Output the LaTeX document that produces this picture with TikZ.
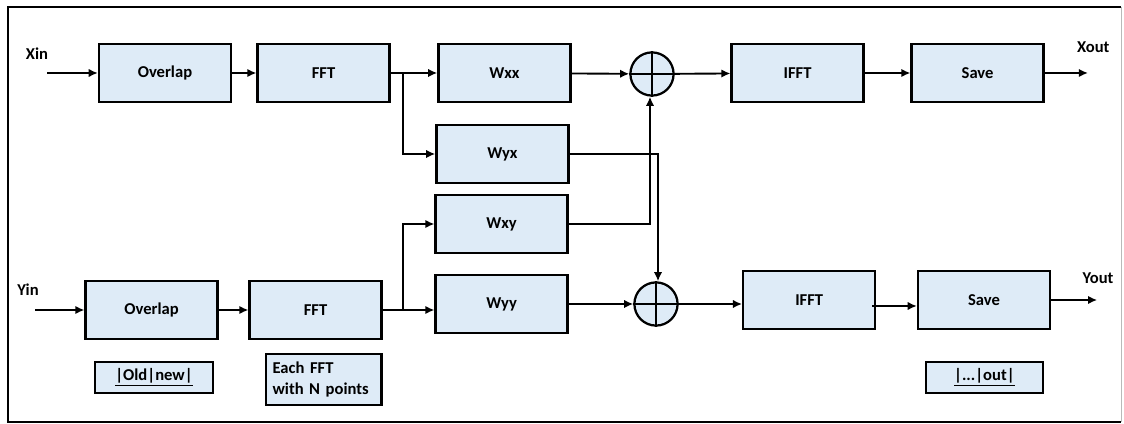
\documentclass[tikz,border=0pt]{standalone}
\usepackage{fontspec}
\setmainfont{Carlito}
\usetikzlibrary{arrows.meta, positioning, calc}
\definecolor{blockfill}{RGB}{222, 235, 247}
\definecolor{framegray}{RGB}{185, 185, 185}

\begin{document}
\begin{tikzpicture}[font=\fontsize{11.8}{15}\selectfont\bfseries,
        blk/.style={rectangle, draw=black, line width=1.6pt, fill=blockfill,
                    minimum width=3.3cm, minimum height=1.45cm, inner sep=0pt},
        note/.style={rectangle, draw=black, line width=1.6pt, fill=blockfill, inner sep=0pt},
        sum/.style={circle, draw=black, line width=1.6pt, fill=blockfill, minimum size=1.08cm, inner sep=0pt},
        sig/.style={-{Latex[length=6.5pt, width=6pt]}, line width=1.35pt}
    ]
    \useasboundingbox (0,0) rectangle (28.1,10.6);
    % outer frame
    \draw[line width=1.6pt] (28.025,10.425) -- (0.2,10.425) -- (0.2,0.05) -- (28.025,0.05);
    \draw[framegray, line width=0.6pt] (28.025,10.425) -- (28.025,0.05);

    % X channel
    \node (xin) at (0.925,9.25) {Xin};
    \node[blk] (ovlX) at (4.125,8.775) {Overlap};
    \node[blk] (fftX) at (8.09,8.775) {FFT};
    \node[blk] (ifftX) at (19.94,8.775) {IFFT};
    \node[blk] (saveX) at (24.44,8.775) {Save};
    \node (xout) at (27.33,9.43) {Xout};

    % cross filters
    \node[blk] (wxx) at (12.61,8.775) {Wxx};
    \node[blk] (wyx) at (12.56,6.75) {Wyx};
    \node[blk] (wxy) at (12.54,5.0) {Wxy};
    \node[blk] (wyy) at (12.54,3.0) {Wyy};

    % adders
    \node[sum] (sumX) at (16.3,8.75) {};
    \node[sum] (sumY) at (16.4,3.0) {};
    \draw[line width=1.6pt] (sumX.north) -- (sumX.south) (sumX.west) -- (sumX.east);
    \draw[line width=1.6pt] (sumY.north) -- (sumY.south) (sumY.west) -- (sumY.east);

    % Y channel
    \node (yin) at (0.7,3.35) {Yin};
    \node[blk] (ovlY) at (3.79,2.85) {Overlap};
    \node[blk] (fftY) at (7.89,2.85) {FFT};
    \node[blk] (ifftY) at (20.23,3.1) {IFFT};
    \node[blk] (saveY) at (24.6,3.1) {Save};
    \node (yout) at (27.45,3.65) {Yout};

    % notes under the blocks
    \node[note, minimum width=2.95cm, minimum height=0.775cm] (oldnew) at (3.85,1.1625) {\underline{|Old|new|}};
    \node[note, text width=2.55cm, inner xsep=0.17cm, minimum height=1.275cm, align=left] (npts) at (8.09,1.11) {Each FFT\\with N points};
    \node[note, minimum width=2.925cm, minimum height=0.775cm] (outpart) at (24.61,1.1625) {\underline{|...|out|}};

    % X signal path
    \coordinate (xsrc) at (1.175,8.775);
    \coordinate (xdst) at (27.2,8.775);
    \coordinate (brX) at (10.075,8.775);
    \draw[sig] (xsrc) -- (ovlX);
    \draw[sig] (ovlX) -- (fftX);
    \draw[sig] (fftX) -- (wxx);
    \draw[sig] (brX) |- (wyx);
    \draw[sig] (wxx) -- (sumX);
    \draw[sig] (sumX) -- (ifftX);
    \draw[sig] (ifftX) -- (saveX);
    \draw[sig] (saveX) -- (xdst);

    % Y signal path
    \coordinate (ysrc) at (0.875,2.85);
    \coordinate (ydst) at (27.43,3.1);
    \coordinate (brY) at (10.075,2.85);
    \draw[sig] (ysrc) -- (ovlY);
    \draw[sig] (ovlY) -- (fftY);
    \draw[sig] (fftY) -- (fftY -| wyy.west);
    \draw[sig] (brY) |- (wxy);
    \draw[sig] (wyy) -- (sumY);
    \draw[sig] (sumY) -- (sumY -| ifftY.west);
    \draw[sig] ([xshift=-0.1cm, yshift=-0.15cm]ifftY.east) -- ([yshift=-0.15cm]saveY.west);
    \draw[sig] (saveY) -- (ydst);

    % crossed feeds into the adders
    \draw[sig] (wxy) -| ([xshift=-0.05cm]sumX.south);
    \draw[sig] (wyx) -| ([xshift=0.05cm]sumY.north);
\end{tikzpicture}
\end{document}
